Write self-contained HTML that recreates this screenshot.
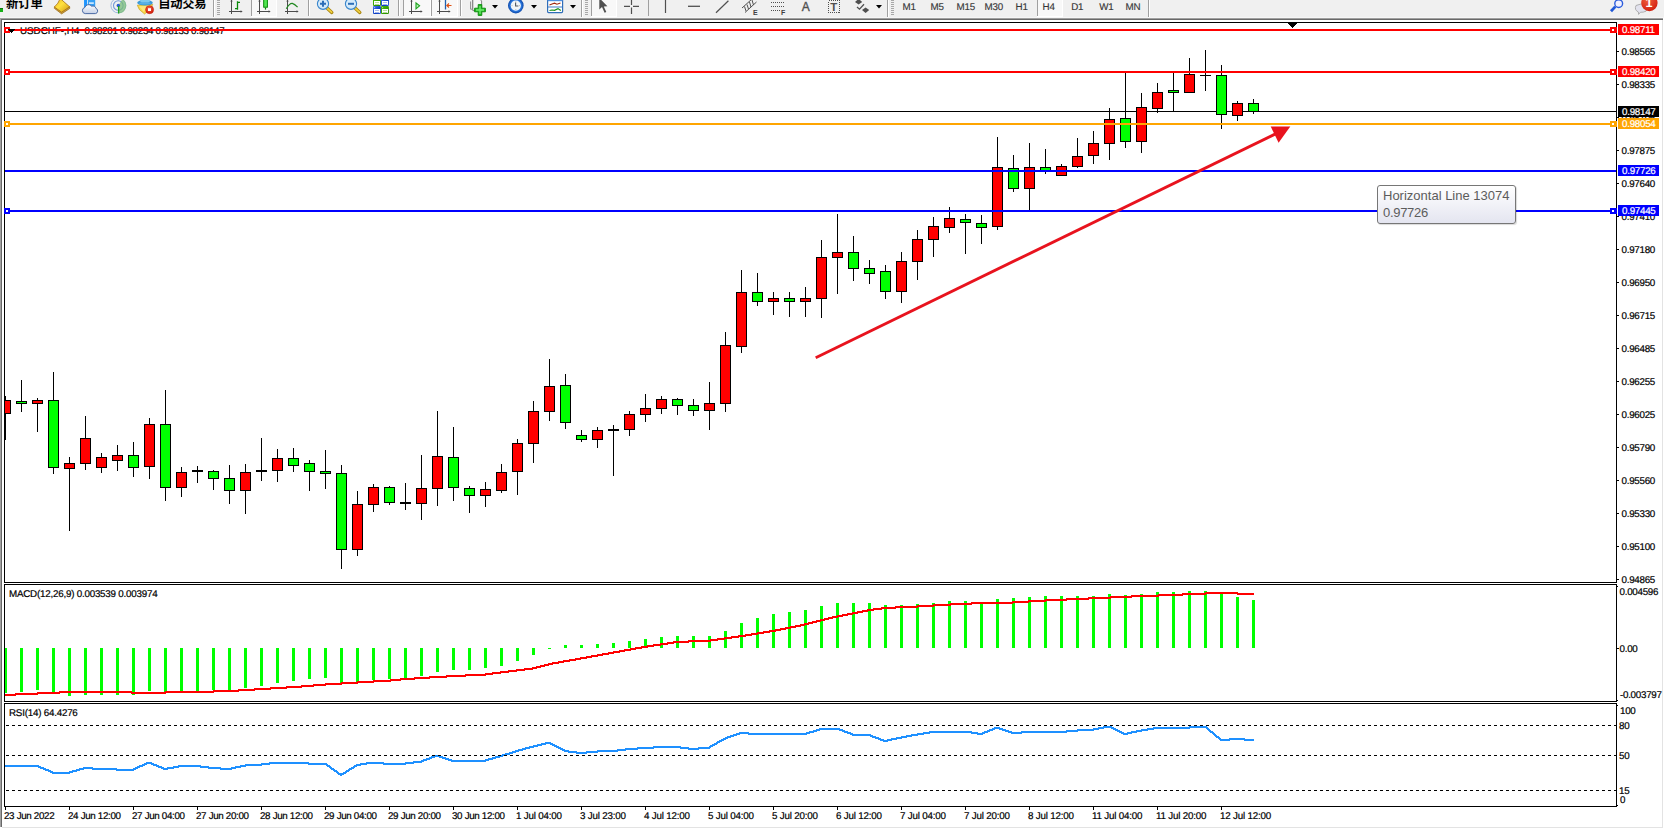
<!DOCTYPE html>
<html lang="zh"><head><meta charset="utf-8"><title>USDCHF-,H4</title>
<style>
html,body{margin:0;padding:0;background:#fff}
body{width:1664px;height:829px;position:relative;overflow:hidden;font-family:"Liberation Sans","Noto Sans CJK SC",sans-serif;color:#000}
#tb{position:absolute;left:0;top:0;width:1664px;height:17px;background:#f0f0f0;overflow:hidden}
#tb .x{position:absolute}
svg{position:absolute;left:0;top:0}
.t{position:absolute;white-space:nowrap;line-height:11px;height:11px;-webkit-text-stroke:.2px #000;text-rendering:geometricPrecision}
.ax{font-size:9.8px;letter-spacing:-0.27px}
.ti{font-size:9.8px;letter-spacing:-0.22px}
.pl{position:absolute;left:1618px;width:41px;height:11px;line-height:13px;font-size:9.8px;letter-spacing:-0.27px;text-rendering:geometricPrecision;text-indent:4px;white-space:nowrap;overflow:hidden;-webkit-text-stroke:.2px currentColor}
#tip{position:absolute;left:1377px;top:185px;width:137px;height:37px;border:1px solid #767676;border-radius:3px;
background:linear-gradient(#ffffff,#e4e5f0);color:#5c5c5c;font-size:13px;line-height:17px;white-space:nowrap;box-shadow:1px 1px 1px rgba(0,0,0,.15)}
#tip div{position:absolute;left:5px}
</style></head>
<body>
<svg width="1664" height="829" viewBox="0 0 1664 829" shape-rendering="crispEdges">
<rect x="0" y="17" width="1664" height="1" fill="#f6f6f6"/>
<rect x="0" y="18" width="1663" height="1" fill="#a0a0a0"/>
<rect x="1" y="19" width="1662" height="1" fill="#696969"/>
<rect x="0" y="19" width="1" height="808" fill="#a0a0a0"/>
<rect x="1" y="20" width="1" height="807" fill="#696969"/>
<rect x="1662" y="20" width="1" height="808" fill="#e3e3e3"/>
<rect x="2" y="827" width="1661" height="1" fill="#e3e3e3"/>
<rect x="5" y="111" width="1611" height="1" fill="#000"/>
<clipPath id="cl"><rect x="5" y="23" width="1611" height="559"/></clipPath><g clip-path="url(#cl)">
<rect x="5" y="396" width="1" height="44" fill="#000"/>
<rect x="0" y="400" width="11" height="14" fill="#000"/>
<rect x="1" y="401" width="9" height="12" fill="#ff0000"/>
<rect x="21" y="380" width="1" height="32" fill="#000"/>
<rect x="16" y="401" width="11" height="3" fill="#000"/>
<rect x="17" y="402" width="9" height="1" fill="#00ff00"/>
<rect x="37" y="398" width="1" height="34" fill="#000"/>
<rect x="32" y="400" width="11" height="4" fill="#000"/>
<rect x="33" y="401" width="9" height="2" fill="#ff0000"/>
<rect x="53" y="372" width="1" height="102" fill="#000"/>
<rect x="48" y="400" width="11" height="68" fill="#000"/>
<rect x="49" y="401" width="9" height="66" fill="#00ff00"/>
<rect x="69" y="457" width="1" height="74" fill="#000"/>
<rect x="64" y="463" width="11" height="6" fill="#000"/>
<rect x="65" y="464" width="9" height="4" fill="#ff0000"/>
<rect x="85" y="416" width="1" height="54" fill="#000"/>
<rect x="80" y="438" width="11" height="26" fill="#000"/>
<rect x="81" y="439" width="9" height="24" fill="#ff0000"/>
<rect x="101" y="453" width="1" height="20" fill="#000"/>
<rect x="96" y="457" width="11" height="11" fill="#000"/>
<rect x="97" y="458" width="9" height="9" fill="#ff0000"/>
<rect x="117" y="445" width="1" height="26" fill="#000"/>
<rect x="112" y="455" width="11" height="6" fill="#000"/>
<rect x="113" y="456" width="9" height="4" fill="#ff0000"/>
<rect x="133" y="442" width="1" height="35" fill="#000"/>
<rect x="128" y="455" width="11" height="13" fill="#000"/>
<rect x="129" y="456" width="9" height="11" fill="#00ff00"/>
<rect x="149" y="418" width="1" height="61" fill="#000"/>
<rect x="144" y="424" width="11" height="43" fill="#000"/>
<rect x="145" y="425" width="9" height="41" fill="#ff0000"/>
<rect x="165" y="390" width="1" height="111" fill="#000"/>
<rect x="160" y="424" width="11" height="64" fill="#000"/>
<rect x="161" y="425" width="9" height="62" fill="#00ff00"/>
<rect x="181" y="467" width="1" height="30" fill="#000"/>
<rect x="176" y="472" width="11" height="16" fill="#000"/>
<rect x="177" y="473" width="9" height="14" fill="#ff0000"/>
<rect x="197" y="466" width="1" height="17" fill="#000"/>
<rect x="192" y="470" width="11" height="2" fill="#000"/>
<rect x="213" y="470" width="1" height="20" fill="#000"/>
<rect x="208" y="471" width="11" height="8" fill="#000"/>
<rect x="209" y="472" width="9" height="6" fill="#00ff00"/>
<rect x="229" y="465" width="1" height="39" fill="#000"/>
<rect x="224" y="478" width="11" height="13" fill="#000"/>
<rect x="225" y="479" width="9" height="11" fill="#00ff00"/>
<rect x="245" y="464" width="1" height="50" fill="#000"/>
<rect x="240" y="472" width="11" height="19" fill="#000"/>
<rect x="241" y="473" width="9" height="17" fill="#ff0000"/>
<rect x="261" y="438" width="1" height="43" fill="#000"/>
<rect x="256" y="470" width="11" height="2" fill="#000"/>
<rect x="277" y="449" width="1" height="33" fill="#000"/>
<rect x="272" y="458" width="11" height="13" fill="#000"/>
<rect x="273" y="459" width="9" height="11" fill="#ff0000"/>
<rect x="293" y="448" width="1" height="24" fill="#000"/>
<rect x="288" y="458" width="11" height="8" fill="#000"/>
<rect x="289" y="459" width="9" height="6" fill="#00ff00"/>
<rect x="309" y="460" width="1" height="31" fill="#000"/>
<rect x="304" y="463" width="11" height="9" fill="#000"/>
<rect x="305" y="464" width="9" height="7" fill="#00ff00"/>
<rect x="325" y="450" width="1" height="39" fill="#000"/>
<rect x="320" y="471" width="11" height="3" fill="#000"/>
<rect x="321" y="472" width="9" height="1" fill="#00ff00"/>
<rect x="341" y="465" width="1" height="104" fill="#000"/>
<rect x="336" y="473" width="11" height="77" fill="#000"/>
<rect x="337" y="474" width="9" height="75" fill="#00ff00"/>
<rect x="357" y="491" width="1" height="65" fill="#000"/>
<rect x="352" y="504" width="11" height="46" fill="#000"/>
<rect x="353" y="505" width="9" height="44" fill="#ff0000"/>
<rect x="373" y="484" width="1" height="28" fill="#000"/>
<rect x="368" y="487" width="11" height="18" fill="#000"/>
<rect x="369" y="488" width="9" height="16" fill="#ff0000"/>
<rect x="389" y="486" width="1" height="19" fill="#000"/>
<rect x="384" y="487" width="11" height="16" fill="#000"/>
<rect x="385" y="488" width="9" height="14" fill="#00ff00"/>
<rect x="405" y="483" width="1" height="27" fill="#000"/>
<rect x="400" y="502" width="11" height="2" fill="#000"/>
<rect x="421" y="455" width="1" height="65" fill="#000"/>
<rect x="416" y="488" width="11" height="16" fill="#000"/>
<rect x="417" y="489" width="9" height="14" fill="#ff0000"/>
<rect x="437" y="411" width="1" height="95" fill="#000"/>
<rect x="432" y="456" width="11" height="33" fill="#000"/>
<rect x="433" y="457" width="9" height="31" fill="#ff0000"/>
<rect x="453" y="427" width="1" height="74" fill="#000"/>
<rect x="448" y="457" width="11" height="31" fill="#000"/>
<rect x="449" y="458" width="9" height="29" fill="#00ff00"/>
<rect x="469" y="486" width="1" height="27" fill="#000"/>
<rect x="464" y="488" width="11" height="8" fill="#000"/>
<rect x="465" y="489" width="9" height="6" fill="#00ff00"/>
<rect x="485" y="482" width="1" height="25" fill="#000"/>
<rect x="480" y="489" width="11" height="7" fill="#000"/>
<rect x="481" y="490" width="9" height="5" fill="#ff0000"/>
<rect x="501" y="464" width="1" height="29" fill="#000"/>
<rect x="496" y="472" width="11" height="19" fill="#000"/>
<rect x="497" y="473" width="9" height="17" fill="#ff0000"/>
<rect x="517" y="439" width="1" height="56" fill="#000"/>
<rect x="512" y="443" width="11" height="29" fill="#000"/>
<rect x="513" y="444" width="9" height="27" fill="#ff0000"/>
<rect x="533" y="401" width="1" height="62" fill="#000"/>
<rect x="528" y="411" width="11" height="33" fill="#000"/>
<rect x="529" y="412" width="9" height="31" fill="#ff0000"/>
<rect x="549" y="359" width="1" height="62" fill="#000"/>
<rect x="544" y="386" width="11" height="26" fill="#000"/>
<rect x="545" y="387" width="9" height="24" fill="#ff0000"/>
<rect x="565" y="374" width="1" height="55" fill="#000"/>
<rect x="560" y="385" width="11" height="38" fill="#000"/>
<rect x="561" y="386" width="9" height="36" fill="#00ff00"/>
<rect x="581" y="430" width="1" height="12" fill="#000"/>
<rect x="576" y="435" width="11" height="5" fill="#000"/>
<rect x="577" y="436" width="9" height="3" fill="#00ff00"/>
<rect x="597" y="427" width="1" height="21" fill="#000"/>
<rect x="592" y="430" width="11" height="10" fill="#000"/>
<rect x="593" y="431" width="9" height="8" fill="#ff0000"/>
<rect x="613" y="425" width="1" height="51" fill="#000"/>
<rect x="608" y="429" width="11" height="2" fill="#000"/>
<rect x="629" y="411" width="1" height="25" fill="#000"/>
<rect x="624" y="414" width="11" height="16" fill="#000"/>
<rect x="625" y="415" width="9" height="14" fill="#ff0000"/>
<rect x="645" y="394" width="1" height="28" fill="#000"/>
<rect x="640" y="408" width="11" height="7" fill="#000"/>
<rect x="641" y="409" width="9" height="5" fill="#ff0000"/>
<rect x="661" y="396" width="1" height="18" fill="#000"/>
<rect x="656" y="399" width="11" height="10" fill="#000"/>
<rect x="657" y="400" width="9" height="8" fill="#ff0000"/>
<rect x="677" y="398" width="1" height="17" fill="#000"/>
<rect x="672" y="399" width="11" height="7" fill="#000"/>
<rect x="673" y="400" width="9" height="5" fill="#00ff00"/>
<rect x="693" y="399" width="1" height="17" fill="#000"/>
<rect x="688" y="405" width="11" height="6" fill="#000"/>
<rect x="689" y="406" width="9" height="4" fill="#00ff00"/>
<rect x="709" y="382" width="1" height="48" fill="#000"/>
<rect x="704" y="403" width="11" height="8" fill="#000"/>
<rect x="705" y="404" width="9" height="6" fill="#ff0000"/>
<rect x="725" y="332" width="1" height="80" fill="#000"/>
<rect x="720" y="345" width="11" height="59" fill="#000"/>
<rect x="721" y="346" width="9" height="57" fill="#ff0000"/>
<rect x="741" y="270" width="1" height="83" fill="#000"/>
<rect x="736" y="292" width="11" height="55" fill="#000"/>
<rect x="737" y="293" width="9" height="53" fill="#ff0000"/>
<rect x="757" y="273" width="1" height="33" fill="#000"/>
<rect x="752" y="292" width="11" height="10" fill="#000"/>
<rect x="753" y="293" width="9" height="8" fill="#00ff00"/>
<rect x="773" y="292" width="1" height="23" fill="#000"/>
<rect x="768" y="298" width="11" height="4" fill="#000"/>
<rect x="769" y="299" width="9" height="2" fill="#ff0000"/>
<rect x="789" y="292" width="1" height="25" fill="#000"/>
<rect x="784" y="298" width="11" height="4" fill="#000"/>
<rect x="785" y="299" width="9" height="2" fill="#00ff00"/>
<rect x="805" y="287" width="1" height="30" fill="#000"/>
<rect x="800" y="298" width="11" height="4" fill="#000"/>
<rect x="801" y="299" width="9" height="2" fill="#ff0000"/>
<rect x="821" y="240" width="1" height="78" fill="#000"/>
<rect x="816" y="257" width="11" height="42" fill="#000"/>
<rect x="817" y="258" width="9" height="40" fill="#ff0000"/>
<rect x="837" y="214" width="1" height="80" fill="#000"/>
<rect x="832" y="252" width="11" height="6" fill="#000"/>
<rect x="833" y="253" width="9" height="4" fill="#ff0000"/>
<rect x="853" y="236" width="1" height="45" fill="#000"/>
<rect x="848" y="252" width="11" height="17" fill="#000"/>
<rect x="849" y="253" width="9" height="15" fill="#00ff00"/>
<rect x="869" y="260" width="1" height="24" fill="#000"/>
<rect x="864" y="268" width="11" height="6" fill="#000"/>
<rect x="865" y="269" width="9" height="4" fill="#00ff00"/>
<rect x="885" y="265" width="1" height="34" fill="#000"/>
<rect x="880" y="271" width="11" height="21" fill="#000"/>
<rect x="881" y="272" width="9" height="19" fill="#00ff00"/>
<rect x="901" y="252" width="1" height="51" fill="#000"/>
<rect x="896" y="261" width="11" height="31" fill="#000"/>
<rect x="897" y="262" width="9" height="29" fill="#ff0000"/>
<rect x="917" y="230" width="1" height="50" fill="#000"/>
<rect x="912" y="239" width="11" height="23" fill="#000"/>
<rect x="913" y="240" width="9" height="21" fill="#ff0000"/>
<rect x="933" y="217" width="1" height="40" fill="#000"/>
<rect x="928" y="226" width="11" height="14" fill="#000"/>
<rect x="929" y="227" width="9" height="12" fill="#ff0000"/>
<rect x="949" y="207" width="1" height="26" fill="#000"/>
<rect x="944" y="218" width="11" height="10" fill="#000"/>
<rect x="945" y="219" width="9" height="8" fill="#ff0000"/>
<rect x="965" y="214" width="1" height="40" fill="#000"/>
<rect x="960" y="219" width="11" height="4" fill="#000"/>
<rect x="961" y="220" width="9" height="2" fill="#00ff00"/>
<rect x="981" y="215" width="1" height="29" fill="#000"/>
<rect x="976" y="223" width="11" height="5" fill="#000"/>
<rect x="977" y="224" width="9" height="3" fill="#00ff00"/>
<rect x="997" y="137" width="1" height="93" fill="#000"/>
<rect x="992" y="167" width="11" height="60" fill="#000"/>
<rect x="993" y="168" width="9" height="58" fill="#ff0000"/>
<rect x="1013" y="155" width="1" height="37" fill="#000"/>
<rect x="1008" y="168" width="11" height="21" fill="#000"/>
<rect x="1009" y="169" width="9" height="19" fill="#00ff00"/>
<rect x="1029" y="143" width="1" height="68" fill="#000"/>
<rect x="1024" y="167" width="11" height="22" fill="#000"/>
<rect x="1025" y="168" width="9" height="20" fill="#ff0000"/>
<rect x="1045" y="149" width="1" height="25" fill="#000"/>
<rect x="1040" y="167" width="11" height="4" fill="#000"/>
<rect x="1041" y="168" width="9" height="2" fill="#00ff00"/>
<rect x="1061" y="164" width="1" height="12" fill="#000"/>
<rect x="1056" y="166" width="11" height="10" fill="#000"/>
<rect x="1057" y="167" width="9" height="8" fill="#ff0000"/>
<rect x="1077" y="138" width="1" height="30" fill="#000"/>
<rect x="1072" y="156" width="11" height="11" fill="#000"/>
<rect x="1073" y="157" width="9" height="9" fill="#ff0000"/>
<rect x="1093" y="131" width="1" height="33" fill="#000"/>
<rect x="1088" y="143" width="11" height="13" fill="#000"/>
<rect x="1089" y="144" width="9" height="11" fill="#ff0000"/>
<rect x="1109" y="108" width="1" height="52" fill="#000"/>
<rect x="1104" y="119" width="11" height="25" fill="#000"/>
<rect x="1105" y="120" width="9" height="23" fill="#ff0000"/>
<rect x="1125" y="73" width="1" height="75" fill="#000"/>
<rect x="1120" y="118" width="11" height="24" fill="#000"/>
<rect x="1121" y="119" width="9" height="22" fill="#00ff00"/>
<rect x="1141" y="93" width="1" height="60" fill="#000"/>
<rect x="1136" y="107" width="11" height="35" fill="#000"/>
<rect x="1137" y="108" width="9" height="33" fill="#ff0000"/>
<rect x="1157" y="83" width="1" height="30" fill="#000"/>
<rect x="1152" y="92" width="11" height="17" fill="#000"/>
<rect x="1153" y="93" width="9" height="15" fill="#ff0000"/>
<rect x="1173" y="73" width="1" height="39" fill="#000"/>
<rect x="1168" y="90" width="11" height="3" fill="#000"/>
<rect x="1169" y="91" width="9" height="1" fill="#00ff00"/>
<rect x="1189" y="58" width="1" height="35" fill="#000"/>
<rect x="1184" y="74" width="11" height="19" fill="#000"/>
<rect x="1185" y="75" width="9" height="17" fill="#ff0000"/>
<rect x="1205" y="50" width="1" height="41" fill="#000"/>
<rect x="1200" y="75" width="11" height="1" fill="#000"/>
<rect x="1221" y="65" width="1" height="64" fill="#000"/>
<rect x="1216" y="75" width="11" height="40" fill="#000"/>
<rect x="1217" y="76" width="9" height="38" fill="#00ff00"/>
<rect x="1237" y="101" width="1" height="20" fill="#000"/>
<rect x="1232" y="103" width="11" height="13" fill="#000"/>
<rect x="1233" y="104" width="9" height="11" fill="#ff0000"/>
<rect x="1253" y="99" width="1" height="15" fill="#000"/>
<rect x="1248" y="103" width="11" height="9" fill="#000"/>
<rect x="1249" y="104" width="9" height="7" fill="#00ff00"/>
</g>
<rect x="4" y="648" width="3" height="45" fill="#00ff00"/>
<rect x="20" y="648" width="3" height="44" fill="#00ff00"/>
<rect x="36" y="648" width="3" height="42" fill="#00ff00"/>
<rect x="52" y="648" width="3" height="45" fill="#00ff00"/>
<rect x="68" y="648" width="3" height="48" fill="#00ff00"/>
<rect x="84" y="648" width="3" height="47" fill="#00ff00"/>
<rect x="100" y="648" width="3" height="47" fill="#00ff00"/>
<rect x="116" y="648" width="3" height="47" fill="#00ff00"/>
<rect x="132" y="648" width="3" height="47" fill="#00ff00"/>
<rect x="148" y="648" width="3" height="43" fill="#00ff00"/>
<rect x="164" y="648" width="3" height="45" fill="#00ff00"/>
<rect x="180" y="648" width="3" height="45" fill="#00ff00"/>
<rect x="196" y="648" width="3" height="44" fill="#00ff00"/>
<rect x="212" y="648" width="3" height="42" fill="#00ff00"/>
<rect x="228" y="648" width="3" height="43" fill="#00ff00"/>
<rect x="244" y="648" width="3" height="40" fill="#00ff00"/>
<rect x="260" y="648" width="3" height="38" fill="#00ff00"/>
<rect x="276" y="648" width="3" height="35" fill="#00ff00"/>
<rect x="292" y="648" width="3" height="33" fill="#00ff00"/>
<rect x="308" y="648" width="3" height="31" fill="#00ff00"/>
<rect x="324" y="648" width="3" height="30" fill="#00ff00"/>
<rect x="340" y="648" width="3" height="35" fill="#00ff00"/>
<rect x="356" y="648" width="3" height="34" fill="#00ff00"/>
<rect x="372" y="648" width="3" height="32" fill="#00ff00"/>
<rect x="388" y="648" width="3" height="31" fill="#00ff00"/>
<rect x="404" y="648" width="3" height="30" fill="#00ff00"/>
<rect x="420" y="648" width="3" height="28" fill="#00ff00"/>
<rect x="436" y="648" width="3" height="24" fill="#00ff00"/>
<rect x="452" y="648" width="3" height="22" fill="#00ff00"/>
<rect x="468" y="648" width="3" height="22" fill="#00ff00"/>
<rect x="484" y="648" width="3" height="20" fill="#00ff00"/>
<rect x="500" y="648" width="3" height="18" fill="#00ff00"/>
<rect x="516" y="648" width="3" height="13" fill="#00ff00"/>
<rect x="532" y="648" width="3" height="7" fill="#00ff00"/>
<rect x="548" y="648" width="3" height="1" fill="#00ff00"/>
<rect x="564" y="645" width="3" height="3" fill="#00ff00"/>
<rect x="580" y="645" width="3" height="3" fill="#00ff00"/>
<rect x="596" y="644" width="3" height="4" fill="#00ff00"/>
<rect x="612" y="643" width="3" height="5" fill="#00ff00"/>
<rect x="628" y="641" width="3" height="7" fill="#00ff00"/>
<rect x="644" y="639" width="3" height="9" fill="#00ff00"/>
<rect x="660" y="637" width="3" height="11" fill="#00ff00"/>
<rect x="676" y="636" width="3" height="12" fill="#00ff00"/>
<rect x="692" y="636" width="3" height="12" fill="#00ff00"/>
<rect x="708" y="636" width="3" height="12" fill="#00ff00"/>
<rect x="724" y="631" width="3" height="17" fill="#00ff00"/>
<rect x="740" y="623" width="3" height="25" fill="#00ff00"/>
<rect x="756" y="618" width="3" height="30" fill="#00ff00"/>
<rect x="772" y="614" width="3" height="34" fill="#00ff00"/>
<rect x="788" y="612" width="3" height="36" fill="#00ff00"/>
<rect x="804" y="610" width="3" height="38" fill="#00ff00"/>
<rect x="820" y="606" width="3" height="42" fill="#00ff00"/>
<rect x="836" y="603" width="3" height="45" fill="#00ff00"/>
<rect x="852" y="603" width="3" height="45" fill="#00ff00"/>
<rect x="868" y="603" width="3" height="45" fill="#00ff00"/>
<rect x="884" y="605" width="3" height="43" fill="#00ff00"/>
<rect x="900" y="605" width="3" height="43" fill="#00ff00"/>
<rect x="916" y="604" width="3" height="44" fill="#00ff00"/>
<rect x="932" y="603" width="3" height="45" fill="#00ff00"/>
<rect x="948" y="601" width="3" height="47" fill="#00ff00"/>
<rect x="964" y="601" width="3" height="47" fill="#00ff00"/>
<rect x="980" y="604" width="3" height="44" fill="#00ff00"/>
<rect x="996" y="599" width="3" height="49" fill="#00ff00"/>
<rect x="1012" y="598" width="3" height="50" fill="#00ff00"/>
<rect x="1028" y="597" width="3" height="51" fill="#00ff00"/>
<rect x="1044" y="596" width="3" height="52" fill="#00ff00"/>
<rect x="1060" y="596" width="3" height="52" fill="#00ff00"/>
<rect x="1076" y="596" width="3" height="52" fill="#00ff00"/>
<rect x="1092" y="596" width="3" height="52" fill="#00ff00"/>
<rect x="1108" y="594" width="3" height="54" fill="#00ff00"/>
<rect x="1124" y="595" width="3" height="53" fill="#00ff00"/>
<rect x="1140" y="594" width="3" height="54" fill="#00ff00"/>
<rect x="1156" y="592" width="3" height="56" fill="#00ff00"/>
<rect x="1172" y="592" width="3" height="56" fill="#00ff00"/>
<rect x="1188" y="591" width="3" height="57" fill="#00ff00"/>
<rect x="1204" y="591" width="3" height="57" fill="#00ff00"/>
<rect x="1220" y="593" width="3" height="55" fill="#00ff00"/>
<rect x="1236" y="597" width="3" height="51" fill="#00ff00"/>
<rect x="1252" y="600" width="3" height="48" fill="#00ff00"/>
<rect x="5" y="694" width="11" height="2" fill="#ff0000"/>
<rect x="15" y="693" width="23" height="2" fill="#ff0000"/>
<rect x="37" y="692" width="23" height="2" fill="#ff0000"/>
<rect x="59" y="691" width="73" height="2" fill="#ff0000"/>
<rect x="131" y="692" width="35" height="2" fill="#ff0000"/>
<rect x="165" y="691" width="49" height="2" fill="#ff0000"/>
<rect x="213" y="690" width="26" height="2" fill="#ff0000"/>
<rect x="238" y="689" width="17" height="2" fill="#ff0000"/>
<rect x="254" y="688" width="17" height="2" fill="#ff0000"/>
<rect x="270" y="687" width="17" height="2" fill="#ff0000"/>
<rect x="286" y="686" width="16" height="2" fill="#ff0000"/>
<rect x="301" y="685" width="13" height="2" fill="#ff0000"/>
<rect x="313" y="684" width="13" height="2" fill="#ff0000"/>
<rect x="325" y="683" width="17" height="2" fill="#ff0000"/>
<rect x="341" y="682" width="17" height="2" fill="#ff0000"/>
<rect x="357" y="681" width="17" height="2" fill="#ff0000"/>
<rect x="373" y="680" width="18" height="2" fill="#ff0000"/>
<rect x="390" y="679" width="11" height="2" fill="#ff0000"/>
<rect x="400" y="678" width="15" height="2" fill="#ff0000"/>
<rect x="414" y="677" width="16" height="2" fill="#ff0000"/>
<rect x="429" y="676" width="18" height="2" fill="#ff0000"/>
<rect x="446" y="675" width="20" height="2" fill="#ff0000"/>
<rect x="465" y="674" width="21" height="2" fill="#ff0000"/>
<rect x="485" y="673" width="8" height="2" fill="#ff0000"/>
<rect x="492" y="672" width="9" height="2" fill="#ff0000"/>
<rect x="500" y="671" width="9" height="2" fill="#ff0000"/>
<rect x="508" y="670" width="9" height="2" fill="#ff0000"/>
<rect x="516" y="669" width="9" height="2" fill="#ff0000"/>
<rect x="524" y="668" width="9" height="2" fill="#ff0000"/>
<rect x="532" y="667" width="5" height="2" fill="#ff0000"/>
<rect x="536" y="666" width="5" height="2" fill="#ff0000"/>
<rect x="540" y="665" width="5" height="2" fill="#ff0000"/>
<rect x="544" y="664" width="5" height="2" fill="#ff0000"/>
<rect x="548" y="663" width="5" height="2" fill="#ff0000"/>
<rect x="552" y="662" width="7" height="2" fill="#ff0000"/>
<rect x="558" y="661" width="6" height="2" fill="#ff0000"/>
<rect x="563" y="660" width="7" height="2" fill="#ff0000"/>
<rect x="569" y="659" width="7" height="2" fill="#ff0000"/>
<rect x="575" y="658" width="6" height="2" fill="#ff0000"/>
<rect x="580" y="657" width="7" height="2" fill="#ff0000"/>
<rect x="586" y="656" width="6" height="2" fill="#ff0000"/>
<rect x="591" y="655" width="7" height="2" fill="#ff0000"/>
<rect x="597" y="654" width="6" height="2" fill="#ff0000"/>
<rect x="602" y="653" width="7" height="2" fill="#ff0000"/>
<rect x="608" y="652" width="6" height="2" fill="#ff0000"/>
<rect x="613" y="651" width="7" height="2" fill="#ff0000"/>
<rect x="619" y="650" width="6" height="2" fill="#ff0000"/>
<rect x="624" y="649" width="7" height="2" fill="#ff0000"/>
<rect x="630" y="648" width="6" height="2" fill="#ff0000"/>
<rect x="635" y="647" width="7" height="2" fill="#ff0000"/>
<rect x="641" y="646" width="7" height="2" fill="#ff0000"/>
<rect x="647" y="645" width="7" height="2" fill="#ff0000"/>
<rect x="653" y="644" width="8" height="2" fill="#ff0000"/>
<rect x="660" y="643" width="8" height="2" fill="#ff0000"/>
<rect x="667" y="642" width="7" height="2" fill="#ff0000"/>
<rect x="673" y="641" width="16" height="2" fill="#ff0000"/>
<rect x="688" y="640" width="23" height="2" fill="#ff0000"/>
<rect x="710" y="639" width="8" height="2" fill="#ff0000"/>
<rect x="717" y="638" width="8" height="2" fill="#ff0000"/>
<rect x="724" y="637" width="8" height="2" fill="#ff0000"/>
<rect x="731" y="636" width="8" height="2" fill="#ff0000"/>
<rect x="738" y="635" width="8" height="2" fill="#ff0000"/>
<rect x="745" y="634" width="7" height="2" fill="#ff0000"/>
<rect x="751" y="633" width="7" height="2" fill="#ff0000"/>
<rect x="757" y="632" width="7" height="2" fill="#ff0000"/>
<rect x="763" y="631" width="7" height="2" fill="#ff0000"/>
<rect x="769" y="630" width="7" height="2" fill="#ff0000"/>
<rect x="775" y="629" width="6" height="2" fill="#ff0000"/>
<rect x="780" y="628" width="6" height="2" fill="#ff0000"/>
<rect x="785" y="627" width="6" height="2" fill="#ff0000"/>
<rect x="790" y="626" width="6" height="2" fill="#ff0000"/>
<rect x="795" y="625" width="6" height="2" fill="#ff0000"/>
<rect x="800" y="624" width="5" height="2" fill="#ff0000"/>
<rect x="804" y="623" width="5" height="2" fill="#ff0000"/>
<rect x="808" y="622" width="5" height="2" fill="#ff0000"/>
<rect x="812" y="621" width="5" height="2" fill="#ff0000"/>
<rect x="816" y="620" width="5" height="2" fill="#ff0000"/>
<rect x="820" y="619" width="5" height="2" fill="#ff0000"/>
<rect x="824" y="618" width="5" height="2" fill="#ff0000"/>
<rect x="828" y="617" width="5" height="2" fill="#ff0000"/>
<rect x="832" y="616" width="6" height="2" fill="#ff0000"/>
<rect x="837" y="615" width="6" height="2" fill="#ff0000"/>
<rect x="842" y="614" width="6" height="2" fill="#ff0000"/>
<rect x="847" y="613" width="6" height="2" fill="#ff0000"/>
<rect x="852" y="612" width="6" height="2" fill="#ff0000"/>
<rect x="857" y="611" width="6" height="2" fill="#ff0000"/>
<rect x="862" y="610" width="6" height="2" fill="#ff0000"/>
<rect x="867" y="609" width="7" height="2" fill="#ff0000"/>
<rect x="873" y="608" width="9" height="2" fill="#ff0000"/>
<rect x="881" y="607" width="15" height="2" fill="#ff0000"/>
<rect x="895" y="606" width="23" height="2" fill="#ff0000"/>
<rect x="917" y="605" width="17" height="2" fill="#ff0000"/>
<rect x="933" y="604" width="18" height="2" fill="#ff0000"/>
<rect x="950" y="603" width="22" height="2" fill="#ff0000"/>
<rect x="971" y="602" width="42" height="2" fill="#ff0000"/>
<rect x="1012" y="601" width="17" height="2" fill="#ff0000"/>
<rect x="1028" y="600" width="18" height="2" fill="#ff0000"/>
<rect x="1045" y="599" width="22" height="2" fill="#ff0000"/>
<rect x="1066" y="598" width="23" height="2" fill="#ff0000"/>
<rect x="1088" y="597" width="23" height="2" fill="#ff0000"/>
<rect x="1110" y="596" width="22" height="2" fill="#ff0000"/>
<rect x="1131" y="595" width="28" height="2" fill="#ff0000"/>
<rect x="1158" y="594" width="25" height="2" fill="#ff0000"/>
<rect x="1182" y="593" width="24" height="2" fill="#ff0000"/>
<rect x="1205" y="592" width="33" height="2" fill="#ff0000"/>
<rect x="1237" y="593" width="17" height="2" fill="#ff0000"/>
<rect x="5" y="765" width="34" height="2" fill="#1e90ff"/>
<rect x="38" y="766" width="3" height="2" fill="#1e90ff"/>
<rect x="40" y="767" width="4" height="2" fill="#1e90ff"/>
<rect x="43" y="768" width="3" height="2" fill="#1e90ff"/>
<rect x="45" y="769" width="4" height="2" fill="#1e90ff"/>
<rect x="48" y="770" width="3" height="2" fill="#1e90ff"/>
<rect x="50" y="771" width="3" height="2" fill="#1e90ff"/>
<rect x="52" y="772" width="18" height="2" fill="#1e90ff"/>
<rect x="69" y="771" width="4" height="2" fill="#1e90ff"/>
<rect x="72" y="770" width="5" height="2" fill="#1e90ff"/>
<rect x="76" y="769" width="4" height="2" fill="#1e90ff"/>
<rect x="79" y="768" width="5" height="2" fill="#1e90ff"/>
<rect x="83" y="767" width="10" height="2" fill="#1e90ff"/>
<rect x="92" y="768" width="25" height="2" fill="#1e90ff"/>
<rect x="116" y="769" width="18" height="2" fill="#1e90ff"/>
<rect x="133" y="768" width="3" height="2" fill="#1e90ff"/>
<rect x="135" y="767" width="3" height="2" fill="#1e90ff"/>
<rect x="137" y="766" width="3" height="2" fill="#1e90ff"/>
<rect x="139" y="765" width="4" height="2" fill="#1e90ff"/>
<rect x="142" y="764" width="3" height="2" fill="#1e90ff"/>
<rect x="144" y="763" width="3" height="2" fill="#1e90ff"/>
<rect x="146" y="762" width="6" height="2" fill="#1e90ff"/>
<rect x="151" y="763" width="3" height="2" fill="#1e90ff"/>
<rect x="153" y="764" width="4" height="2" fill="#1e90ff"/>
<rect x="156" y="765" width="3" height="2" fill="#1e90ff"/>
<rect x="158" y="766" width="4" height="2" fill="#1e90ff"/>
<rect x="161" y="767" width="3" height="2" fill="#1e90ff"/>
<rect x="163" y="768" width="5" height="2" fill="#1e90ff"/>
<rect x="167" y="767" width="7" height="2" fill="#1e90ff"/>
<rect x="173" y="766" width="6" height="2" fill="#1e90ff"/>
<rect x="178" y="765" width="23" height="2" fill="#1e90ff"/>
<rect x="200" y="766" width="9" height="2" fill="#1e90ff"/>
<rect x="208" y="767" width="13" height="2" fill="#1e90ff"/>
<rect x="220" y="768" width="12" height="2" fill="#1e90ff"/>
<rect x="231" y="767" width="5" height="2" fill="#1e90ff"/>
<rect x="235" y="766" width="6" height="2" fill="#1e90ff"/>
<rect x="240" y="765" width="6" height="2" fill="#1e90ff"/>
<rect x="245" y="764" width="17" height="2" fill="#1e90ff"/>
<rect x="261" y="763" width="9" height="2" fill="#1e90ff"/>
<rect x="269" y="762" width="40" height="2" fill="#1e90ff"/>
<rect x="308" y="763" width="19" height="2" fill="#1e90ff"/>
<rect x="326" y="764" width="2" height="2" fill="#1e90ff"/>
<rect x="327" y="765" width="3" height="2" fill="#1e90ff"/>
<rect x="329" y="766" width="2" height="2" fill="#1e90ff"/>
<rect x="330" y="767" width="2" height="2" fill="#1e90ff"/>
<rect x="331" y="768" width="3" height="2" fill="#1e90ff"/>
<rect x="333" y="769" width="2" height="2" fill="#1e90ff"/>
<rect x="334" y="770" width="3" height="2" fill="#1e90ff"/>
<rect x="336" y="771" width="2" height="2" fill="#1e90ff"/>
<rect x="337" y="772" width="2" height="2" fill="#1e90ff"/>
<rect x="338" y="773" width="3" height="2" fill="#1e90ff"/>
<rect x="340" y="774" width="2" height="2" fill="#1e90ff"/>
<rect x="341" y="773" width="3" height="2" fill="#1e90ff"/>
<rect x="343" y="772" width="3" height="2" fill="#1e90ff"/>
<rect x="345" y="771" width="2" height="2" fill="#1e90ff"/>
<rect x="346" y="770" width="3" height="2" fill="#1e90ff"/>
<rect x="348" y="769" width="2" height="2" fill="#1e90ff"/>
<rect x="349" y="768" width="3" height="2" fill="#1e90ff"/>
<rect x="351" y="767" width="3" height="2" fill="#1e90ff"/>
<rect x="353" y="766" width="2" height="2" fill="#1e90ff"/>
<rect x="354" y="765" width="3" height="2" fill="#1e90ff"/>
<rect x="356" y="764" width="5" height="2" fill="#1e90ff"/>
<rect x="360" y="763" width="7" height="2" fill="#1e90ff"/>
<rect x="366" y="762" width="18" height="2" fill="#1e90ff"/>
<rect x="383" y="763" width="23" height="2" fill="#1e90ff"/>
<rect x="405" y="762" width="9" height="2" fill="#1e90ff"/>
<rect x="413" y="761" width="9" height="2" fill="#1e90ff"/>
<rect x="421" y="760" width="3" height="2" fill="#1e90ff"/>
<rect x="423" y="759" width="4" height="2" fill="#1e90ff"/>
<rect x="426" y="758" width="4" height="2" fill="#1e90ff"/>
<rect x="429" y="757" width="3" height="2" fill="#1e90ff"/>
<rect x="431" y="756" width="4" height="2" fill="#1e90ff"/>
<rect x="434" y="755" width="6" height="2" fill="#1e90ff"/>
<rect x="439" y="756" width="4" height="2" fill="#1e90ff"/>
<rect x="442" y="757" width="4" height="2" fill="#1e90ff"/>
<rect x="445" y="758" width="4" height="2" fill="#1e90ff"/>
<rect x="448" y="759" width="4" height="2" fill="#1e90ff"/>
<rect x="451" y="760" width="35" height="2" fill="#1e90ff"/>
<rect x="485" y="759" width="4" height="2" fill="#1e90ff"/>
<rect x="488" y="758" width="5" height="2" fill="#1e90ff"/>
<rect x="492" y="757" width="4" height="2" fill="#1e90ff"/>
<rect x="495" y="756" width="5" height="2" fill="#1e90ff"/>
<rect x="499" y="755" width="4" height="2" fill="#1e90ff"/>
<rect x="502" y="754" width="4" height="2" fill="#1e90ff"/>
<rect x="505" y="753" width="5" height="2" fill="#1e90ff"/>
<rect x="509" y="752" width="4" height="2" fill="#1e90ff"/>
<rect x="512" y="751" width="4" height="2" fill="#1e90ff"/>
<rect x="515" y="750" width="4" height="2" fill="#1e90ff"/>
<rect x="518" y="749" width="5" height="2" fill="#1e90ff"/>
<rect x="522" y="748" width="4" height="2" fill="#1e90ff"/>
<rect x="525" y="747" width="5" height="2" fill="#1e90ff"/>
<rect x="529" y="746" width="5" height="2" fill="#1e90ff"/>
<rect x="533" y="745" width="5" height="2" fill="#1e90ff"/>
<rect x="537" y="744" width="5" height="2" fill="#1e90ff"/>
<rect x="541" y="743" width="5" height="2" fill="#1e90ff"/>
<rect x="545" y="742" width="6" height="2" fill="#1e90ff"/>
<rect x="550" y="743" width="3" height="2" fill="#1e90ff"/>
<rect x="552" y="744" width="3" height="2" fill="#1e90ff"/>
<rect x="554" y="745" width="3" height="2" fill="#1e90ff"/>
<rect x="556" y="746" width="3" height="2" fill="#1e90ff"/>
<rect x="558" y="747" width="3" height="2" fill="#1e90ff"/>
<rect x="560" y="748" width="3" height="2" fill="#1e90ff"/>
<rect x="562" y="749" width="3" height="2" fill="#1e90ff"/>
<rect x="564" y="750" width="5" height="2" fill="#1e90ff"/>
<rect x="568" y="751" width="9" height="2" fill="#1e90ff"/>
<rect x="576" y="752" width="11" height="2" fill="#1e90ff"/>
<rect x="586" y="751" width="12" height="2" fill="#1e90ff"/>
<rect x="597" y="750" width="21" height="2" fill="#1e90ff"/>
<rect x="617" y="749" width="9" height="2" fill="#1e90ff"/>
<rect x="625" y="748" width="13" height="2" fill="#1e90ff"/>
<rect x="637" y="747" width="17" height="2" fill="#1e90ff"/>
<rect x="653" y="746" width="28" height="2" fill="#1e90ff"/>
<rect x="680" y="747" width="9" height="2" fill="#1e90ff"/>
<rect x="688" y="748" width="11" height="2" fill="#1e90ff"/>
<rect x="698" y="747" width="12" height="2" fill="#1e90ff"/>
<rect x="709" y="746" width="2" height="2" fill="#1e90ff"/>
<rect x="710" y="745" width="3" height="2" fill="#1e90ff"/>
<rect x="712" y="744" width="3" height="2" fill="#1e90ff"/>
<rect x="714" y="743" width="3" height="2" fill="#1e90ff"/>
<rect x="716" y="742" width="2" height="2" fill="#1e90ff"/>
<rect x="717" y="741" width="3" height="2" fill="#1e90ff"/>
<rect x="719" y="740" width="3" height="2" fill="#1e90ff"/>
<rect x="721" y="739" width="3" height="2" fill="#1e90ff"/>
<rect x="723" y="738" width="3" height="2" fill="#1e90ff"/>
<rect x="725" y="737" width="3" height="2" fill="#1e90ff"/>
<rect x="727" y="736" width="4" height="2" fill="#1e90ff"/>
<rect x="730" y="735" width="4" height="2" fill="#1e90ff"/>
<rect x="733" y="734" width="4" height="2" fill="#1e90ff"/>
<rect x="736" y="733" width="4" height="2" fill="#1e90ff"/>
<rect x="739" y="732" width="10" height="2" fill="#1e90ff"/>
<rect x="748" y="733" width="59" height="2" fill="#1e90ff"/>
<rect x="806" y="732" width="4" height="2" fill="#1e90ff"/>
<rect x="809" y="731" width="5" height="2" fill="#1e90ff"/>
<rect x="813" y="730" width="4" height="2" fill="#1e90ff"/>
<rect x="816" y="729" width="4" height="2" fill="#1e90ff"/>
<rect x="819" y="728" width="21" height="2" fill="#1e90ff"/>
<rect x="839" y="729" width="4" height="2" fill="#1e90ff"/>
<rect x="842" y="730" width="3" height="2" fill="#1e90ff"/>
<rect x="844" y="731" width="4" height="2" fill="#1e90ff"/>
<rect x="847" y="732" width="4" height="2" fill="#1e90ff"/>
<rect x="850" y="733" width="3" height="2" fill="#1e90ff"/>
<rect x="852" y="734" width="19" height="2" fill="#1e90ff"/>
<rect x="870" y="735" width="3" height="2" fill="#1e90ff"/>
<rect x="872" y="736" width="4" height="2" fill="#1e90ff"/>
<rect x="875" y="737" width="4" height="2" fill="#1e90ff"/>
<rect x="878" y="738" width="3" height="2" fill="#1e90ff"/>
<rect x="880" y="739" width="4" height="2" fill="#1e90ff"/>
<rect x="883" y="740" width="5" height="2" fill="#1e90ff"/>
<rect x="887" y="739" width="5" height="2" fill="#1e90ff"/>
<rect x="891" y="738" width="6" height="2" fill="#1e90ff"/>
<rect x="896" y="737" width="6" height="2" fill="#1e90ff"/>
<rect x="901" y="736" width="6" height="2" fill="#1e90ff"/>
<rect x="906" y="735" width="6" height="2" fill="#1e90ff"/>
<rect x="911" y="734" width="7" height="2" fill="#1e90ff"/>
<rect x="917" y="733" width="7" height="2" fill="#1e90ff"/>
<rect x="923" y="732" width="7" height="2" fill="#1e90ff"/>
<rect x="929" y="731" width="43" height="2" fill="#1e90ff"/>
<rect x="971" y="732" width="7" height="2" fill="#1e90ff"/>
<rect x="977" y="733" width="6" height="2" fill="#1e90ff"/>
<rect x="982" y="732" width="3" height="2" fill="#1e90ff"/>
<rect x="984" y="731" width="4" height="2" fill="#1e90ff"/>
<rect x="987" y="730" width="3" height="2" fill="#1e90ff"/>
<rect x="989" y="729" width="4" height="2" fill="#1e90ff"/>
<rect x="992" y="728" width="3" height="2" fill="#1e90ff"/>
<rect x="994" y="727" width="6" height="2" fill="#1e90ff"/>
<rect x="999" y="728" width="4" height="2" fill="#1e90ff"/>
<rect x="1002" y="729" width="4" height="2" fill="#1e90ff"/>
<rect x="1005" y="730" width="4" height="2" fill="#1e90ff"/>
<rect x="1008" y="731" width="4" height="2" fill="#1e90ff"/>
<rect x="1011" y="732" width="11" height="2" fill="#1e90ff"/>
<rect x="1021" y="731" width="46" height="2" fill="#1e90ff"/>
<rect x="1066" y="730" width="12" height="2" fill="#1e90ff"/>
<rect x="1077" y="729" width="17" height="2" fill="#1e90ff"/>
<rect x="1093" y="728" width="6" height="2" fill="#1e90ff"/>
<rect x="1098" y="727" width="6" height="2" fill="#1e90ff"/>
<rect x="1103" y="726" width="9" height="2" fill="#1e90ff"/>
<rect x="1111" y="727" width="3" height="2" fill="#1e90ff"/>
<rect x="1113" y="728" width="3" height="2" fill="#1e90ff"/>
<rect x="1115" y="729" width="3" height="2" fill="#1e90ff"/>
<rect x="1117" y="730" width="3" height="2" fill="#1e90ff"/>
<rect x="1119" y="731" width="3" height="2" fill="#1e90ff"/>
<rect x="1121" y="732" width="3" height="2" fill="#1e90ff"/>
<rect x="1123" y="733" width="5" height="2" fill="#1e90ff"/>
<rect x="1127" y="732" width="5" height="2" fill="#1e90ff"/>
<rect x="1131" y="731" width="6" height="2" fill="#1e90ff"/>
<rect x="1136" y="730" width="6" height="2" fill="#1e90ff"/>
<rect x="1141" y="729" width="7" height="2" fill="#1e90ff"/>
<rect x="1147" y="728" width="7" height="2" fill="#1e90ff"/>
<rect x="1153" y="727" width="37" height="2" fill="#1e90ff"/>
<rect x="1189" y="726" width="18" height="2" fill="#1e90ff"/>
<rect x="1206" y="727" width="2" height="2" fill="#1e90ff"/>
<rect x="1207" y="728" width="2" height="2" fill="#1e90ff"/>
<rect x="1208" y="729" width="2" height="2" fill="#1e90ff"/>
<rect x="1209" y="730" width="2" height="2" fill="#1e90ff"/>
<rect x="1210" y="731" width="3" height="2" fill="#1e90ff"/>
<rect x="1212" y="732" width="2" height="2" fill="#1e90ff"/>
<rect x="1213" y="733" width="2" height="2" fill="#1e90ff"/>
<rect x="1214" y="734" width="2" height="2" fill="#1e90ff"/>
<rect x="1215" y="735" width="2" height="2" fill="#1e90ff"/>
<rect x="1216" y="736" width="3" height="2" fill="#1e90ff"/>
<rect x="1218" y="737" width="2" height="2" fill="#1e90ff"/>
<rect x="1219" y="738" width="2" height="2" fill="#1e90ff"/>
<rect x="1220" y="739" width="10" height="2" fill="#1e90ff"/>
<rect x="1229" y="738" width="16" height="2" fill="#1e90ff"/>
<rect x="1244" y="739" width="10" height="2" fill="#1e90ff"/>
<line x1="6" y1="725.5" x2="1616" y2="725.5" stroke="#000" stroke-width="1" stroke-dasharray="3,3"/>
<line x1="6" y1="755.5" x2="1616" y2="755.5" stroke="#000" stroke-width="1" stroke-dasharray="3,3"/>
<line x1="6" y1="790.5" x2="1616" y2="790.5" stroke="#000" stroke-width="1" stroke-dasharray="3,3"/>
<rect x="4" y="22" width="1613" height="1" fill="#000"/>
<rect x="4" y="22" width="1" height="785" fill="#000"/>
<rect x="1616" y="22" width="1" height="785" fill="#000"/>
<rect x="4" y="582" width="1613" height="1" fill="#000"/>
<rect x="4" y="583" width="1613" height="1" fill="#fff"/>
<rect x="4" y="584" width="1613" height="1" fill="#000"/>
<rect x="4" y="701" width="1613" height="1" fill="#000"/>
<rect x="4" y="702" width="1613" height="1" fill="#fff"/>
<rect x="4" y="703" width="1613" height="1" fill="#000"/>
<rect x="4" y="806" width="1613" height="1" fill="#000"/>
<rect x="5" y="29" width="1611" height="2" fill="#ff0000"/>
<rect x="4" y="27" width="6" height="6" fill="#ff0000"/>
<rect x="6" y="29" width="2" height="2" fill="#fff"/>
<rect x="1610" y="27" width="7" height="6" fill="#ff0000"/>
<rect x="1612" y="29" width="2" height="2" fill="#fff"/>
<rect x="5" y="71" width="1611" height="2" fill="#ff0000"/>
<rect x="4" y="69" width="6" height="6" fill="#ff0000"/>
<rect x="6" y="71" width="2" height="2" fill="#fff"/>
<rect x="1610" y="69" width="7" height="6" fill="#ff0000"/>
<rect x="1612" y="71" width="2" height="2" fill="#fff"/>
<rect x="5" y="123" width="1611" height="2" fill="#ffa500"/>
<rect x="4" y="121" width="6" height="6" fill="#ffa500"/>
<rect x="6" y="123" width="2" height="2" fill="#fff"/>
<rect x="1610" y="121" width="7" height="6" fill="#ffa500"/>
<rect x="1612" y="123" width="2" height="2" fill="#fff"/>
<rect x="5" y="170" width="1611" height="2" fill="#0000ff"/>
<rect x="5" y="210" width="1611" height="2" fill="#0000ff"/>
<rect x="4" y="208" width="6" height="6" fill="#0000ff"/>
<rect x="6" y="210" width="2" height="2" fill="#fff"/>
<rect x="1610" y="208" width="7" height="6" fill="#0000ff"/>
<rect x="1612" y="210" width="2" height="2" fill="#fff"/>
<rect x="1617" y="51" width="2" height="1" fill="#000"/>
<rect x="1617" y="84" width="2" height="1" fill="#000"/>
<rect x="1617" y="117" width="2" height="1" fill="#000"/>
<rect x="1617" y="150" width="2" height="1" fill="#000"/>
<rect x="1617" y="183" width="2" height="1" fill="#000"/>
<rect x="1617" y="216" width="2" height="1" fill="#000"/>
<rect x="1617" y="249" width="2" height="1" fill="#000"/>
<rect x="1617" y="282" width="2" height="1" fill="#000"/>
<rect x="1617" y="315" width="2" height="1" fill="#000"/>
<rect x="1617" y="348" width="2" height="1" fill="#000"/>
<rect x="1617" y="381" width="2" height="1" fill="#000"/>
<rect x="1617" y="414" width="2" height="1" fill="#000"/>
<rect x="1617" y="447" width="2" height="1" fill="#000"/>
<rect x="1617" y="480" width="2" height="1" fill="#000"/>
<rect x="1617" y="513" width="2" height="1" fill="#000"/>
<rect x="1617" y="546" width="2" height="1" fill="#000"/>
<rect x="1617" y="579" width="2" height="1" fill="#000"/>
<rect x="1617" y="648" width="2" height="1" fill="#000"/>
<rect x="1617" y="586" width="1" height="1" fill="#000"/>
<rect x="1617" y="700" width="1" height="1" fill="#000"/>
<rect x="1617" y="705" width="1" height="1" fill="#000"/>
<rect x="1617" y="805" width="1" height="1" fill="#000"/>
<rect x="5" y="807" width="1" height="3" fill="#000"/>
<rect x="69" y="807" width="1" height="3" fill="#000"/>
<rect x="133" y="807" width="1" height="3" fill="#000"/>
<rect x="197" y="807" width="1" height="3" fill="#000"/>
<rect x="261" y="807" width="1" height="3" fill="#000"/>
<rect x="325" y="807" width="1" height="3" fill="#000"/>
<rect x="389" y="807" width="1" height="3" fill="#000"/>
<rect x="453" y="807" width="1" height="3" fill="#000"/>
<rect x="517" y="807" width="1" height="3" fill="#000"/>
<rect x="581" y="807" width="1" height="3" fill="#000"/>
<rect x="645" y="807" width="1" height="3" fill="#000"/>
<rect x="709" y="807" width="1" height="3" fill="#000"/>
<rect x="773" y="807" width="1" height="3" fill="#000"/>
<rect x="837" y="807" width="1" height="3" fill="#000"/>
<rect x="901" y="807" width="1" height="3" fill="#000"/>
<rect x="965" y="807" width="1" height="3" fill="#000"/>
<rect x="1029" y="807" width="1" height="3" fill="#000"/>
<rect x="1093" y="807" width="1" height="3" fill="#000"/>
<rect x="1157" y="807" width="1" height="3" fill="#000"/>
<rect x="1221" y="807" width="1" height="3" fill="#000"/>
<polygon points="1288,23 1297,23 1292.5,28" fill="#000"/>
<rect x="1288" y="23" width="9" height="1" fill="#000"/>
<rect x="1289" y="24" width="7" height="1" fill="#000"/>
<rect x="1290" y="25" width="5" height="1" fill="#000"/>
<rect x="1291" y="26" width="3" height="1" fill="#000"/>
<rect x="1292" y="27" width="1" height="1" fill="#000"/>
<rect x="8" y="29" width="7" height="1" fill="#000"/>
<rect x="9" y="30" width="5" height="1" fill="#000"/>
<rect x="10" y="31" width="3" height="1" fill="#000"/>
<rect x="11" y="32" width="1" height="1" fill="#000"/>
</svg>
<svg width="1664" height="829" viewBox="0 0 1664 829">
<line x1="815.7" y1="357.7" x2="1276.5" y2="133.4" stroke="#e8131e" stroke-width="2.9"/><polygon points="1270.7,126.5 1290.3,126.5 1278.6,142.7" fill="#e8131e"/>
</svg>
<div class="t ax" style="left:1621.5px;top:47px;">0.98565</div>
<div class="t ax" style="left:1621.5px;top:80px;">0.98335</div>
<div class="t ax" style="left:1621.5px;top:113px;">0.98105</div>
<div class="t ax" style="left:1621.5px;top:146px;">0.97875</div>
<div class="t ax" style="left:1621.5px;top:179px;">0.97640</div>
<div class="t ax" style="left:1621.5px;top:212px;">0.97410</div>
<div class="t ax" style="left:1621.5px;top:245px;">0.97180</div>
<div class="t ax" style="left:1621.5px;top:278px;">0.96950</div>
<div class="t ax" style="left:1621.5px;top:311px;">0.96715</div>
<div class="t ax" style="left:1621.5px;top:344px;">0.96485</div>
<div class="t ax" style="left:1621.5px;top:377px;">0.96255</div>
<div class="t ax" style="left:1621.5px;top:410px;">0.96025</div>
<div class="t ax" style="left:1621.5px;top:443px;">0.95790</div>
<div class="t ax" style="left:1621.5px;top:476px;">0.95560</div>
<div class="t ax" style="left:1621.5px;top:509px;">0.95330</div>
<div class="t ax" style="left:1621.5px;top:542px;">0.95100</div>
<div class="t ax" style="left:1621.5px;top:575px;">0.94865</div>
<div class="t ax" style="left:1619.5px;top:587px;">0.004596</div>
<div class="t ax" style="left:1619.5px;top:644px;">0.00</div>
<div class="t ax" style="left:1620px;top:690px;">-0.003797</div>
<div class="t ax" style="left:1620px;top:706px;">100</div>
<div class="t ax" style="left:1619px;top:721px;">80</div>
<div class="t ax" style="left:1619px;top:751px;">50</div>
<div class="t ax" style="left:1619px;top:786px;">15</div>
<div class="t ax" style="left:1620px;top:795px;">0</div>
<div class="t ax" style="left:4px;top:811px;letter-spacing:-0.33px">23 Jun 2022</div>
<div class="t ax" style="left:68px;top:811px;letter-spacing:-0.33px">24 Jun 12:00</div>
<div class="t ax" style="left:132px;top:811px;letter-spacing:-0.33px">27 Jun 04:00</div>
<div class="t ax" style="left:196px;top:811px;letter-spacing:-0.33px">27 Jun 20:00</div>
<div class="t ax" style="left:260px;top:811px;letter-spacing:-0.33px">28 Jun 12:00</div>
<div class="t ax" style="left:324px;top:811px;letter-spacing:-0.33px">29 Jun 04:00</div>
<div class="t ax" style="left:388px;top:811px;letter-spacing:-0.33px">29 Jun 20:00</div>
<div class="t ax" style="left:452px;top:811px;letter-spacing:-0.33px">30 Jun 12:00</div>
<div class="t ax" style="left:516px;top:811px;letter-spacing:-0.2px">1 Jul 04:00</div>
<div class="t ax" style="left:580px;top:811px;letter-spacing:-0.2px">3 Jul 23:00</div>
<div class="t ax" style="left:644px;top:811px;letter-spacing:-0.2px">4 Jul 12:00</div>
<div class="t ax" style="left:708px;top:811px;letter-spacing:-0.2px">5 Jul 04:00</div>
<div class="t ax" style="left:772px;top:811px;letter-spacing:-0.2px">5 Jul 20:00</div>
<div class="t ax" style="left:836px;top:811px;letter-spacing:-0.2px">6 Jul 12:00</div>
<div class="t ax" style="left:900px;top:811px;letter-spacing:-0.2px">7 Jul 04:00</div>
<div class="t ax" style="left:964px;top:811px;letter-spacing:-0.2px">7 Jul 20:00</div>
<div class="t ax" style="left:1028px;top:811px;letter-spacing:-0.2px">8 Jul 12:00</div>
<div class="t ax" style="left:1092px;top:811px;letter-spacing:-0.2px">11 Jul 04:00</div>
<div class="t ax" style="left:1156px;top:811px;letter-spacing:-0.2px">11 Jul 20:00</div>
<div class="t ax" style="left:1220px;top:811px;letter-spacing:-0.2px">12 Jul 12:00</div>
<div class="pl" style="top:24px;background:#ff0000;color:#fff">0.98711</div>
<div class="pl" style="top:66px;background:#ff0000;color:#fff">0.98420</div>
<div class="pl" style="top:106px;background:#000;color:#fff">0.98147</div>
<div class="pl" style="top:118px;background:#ffa500;color:#fff">0.98054</div>
<div class="pl" style="top:165px;background:#0000ff;color:#fff">0.97726</div>
<div class="pl" style="top:205px;background:#0000ff;color:#fff">0.97445</div>
<div class="t ti" style="left:20px;top:26px;letter-spacing:0">USDCHF-,H4</div>
<div class="t ti" style="left:84.4px;top:26px;letter-spacing:-.32px">0.98201 0.98234 0.98133 0.98147</div>
<div style="position:absolute;left:16px;top:29px;width:214px;height:2px;background:#f00"></div>
<div class="t ti" style="left:9px;top:589px;">MACD(12,26,9) 0.003539 0.003974</div>
<div class="t ti" style="left:9px;top:708px;">RSI(14) 64.4276</div>
<div id="tip"><div style="top:1px">Horizontal Line 13074</div><div style="top:18px;letter-spacing:-0.3px">0.97726</div></div>
<div id="tb"><svg width="1664" height="17" viewBox="0 0 1664 17" style="position:absolute;left:0;top:0"><rect x="0" y="8" width="3" height="4" fill="#18b018"/><rect x="0" y="8" width="3" height="1" fill="#0a7a0a"/><defs><linearGradient id="gy" x1="0" y1="0" x2="1" y2="1"><stop offset="0" stop-color="#f0c020"/><stop offset=".45" stop-color="#ffe040"/><stop offset="1" stop-color="#d09810"/></linearGradient><linearGradient id="gb" x1="0" y1="0" x2="0" y2="1"><stop offset="0" stop-color="#9ecbf5"/><stop offset="1" stop-color="#2f7fe0"/></linearGradient><radialGradient id="gr" cx=".4" cy=".3" r=".8"><stop offset="0" stop-color="#f06040"/><stop offset="1" stop-color="#d01808"/></radialGradient></defs><path d="M54.3 8.3L61.6 13.9L69.8 8.4L69.6 6.6L61.5 12L54.5 6.8Z" fill="#c8a048" stroke="#9a6810" stroke-width=".7"/><path d="M60.2 -1.5L69.6 6.8L61.6 12.2L54.4 7Q58.5 3.5 60.2 -1.5Z" fill="url(#gy)" stroke="#a87010" stroke-width=".8"/><rect x="84.2" y="-2" width="11" height="10" fill="#36a0f4"/><rect x="84.2" y="-2" width="2.8" height="10" fill="#1e94ff"/><rect x="87" y="-2" width=".8" height="10" fill="#e8f4ff"/><rect x="89" y="2.4" width="4.8" height="1.4" fill="#f0f8ff"/><linearGradient id="gc" x1="0" y1="0" x2="0" y2="1"><stop offset="0" stop-color="#ffffff"/><stop offset="1" stop-color="#c4d0e6"/></linearGradient><path d="M85.2 13.6a3.1 3.1 0 0 1-.4-6.1a3.9 3.9 0 0 1 6.9-1.3a3 3 0 0 1 4.2 2.2a2.7 2.7 0 0 1-.5 5.2Z" fill="url(#gc)" stroke="#4a6aa4" stroke-width="1"/><circle cx="118.3" cy="5.5" r="7.4" fill="none" stroke="#9db8e0" stroke-width="1"/><circle cx="118.3" cy="5.5" r="4.8" fill="none" stroke="#6f96d8" stroke-width="1.1"/><path d="M118.3 5.5L122.5 -1A7.7 7.7 0 0 1 118.3 13.3Z" fill="#78bc78" opacity=".75"/><circle cx="118.3" cy="5.5" r="1.7" fill="#2a5bd0"/><path d="M118.6 6V13.5" stroke="#20a020" stroke-width="1.3"/><path d="M137.3 5.2L152.7 4.4L150.6 8.6L144.6 14L139.4 9.6Z" fill="#f8d848" stroke="#c8a020" stroke-width=".7"/><path d="M139 6.2L147 6L143.8 12Z" fill="#fdec90" opacity=".7"/><ellipse cx="145" cy="2.7" rx="7.8" ry="2.8" fill="#3898d8"/><path d="M140.3 2Q141 -3 145 -3.4Q149 -3 149.8 2Q145 4 140.3 2Z" fill="#7cc8ee"/><ellipse cx="145" cy="3.3" rx="6" ry="1.3" fill="#58b0e4"/><circle cx="149.6" cy="9.7" r="4" fill="url(#gr)" stroke="#b81808" stroke-width=".5"/><rect x="148" y="8.2" width="3" height="2.8" fill="#fff"/><rect x="213" y="0" width="1" height="17" fill="#a0a0a0" shape-rendering="crispEdges"/><rect x="214" y="0" width="1" height="17" fill="#ffffff" shape-rendering="crispEdges"/><rect x="217" y="0" width="3" height="1" fill="#a8a8a8" shape-rendering="crispEdges"/><rect x="217" y="2" width="3" height="1" fill="#a8a8a8" shape-rendering="crispEdges"/><rect x="217" y="4" width="3" height="1" fill="#a8a8a8" shape-rendering="crispEdges"/><rect x="217" y="6" width="3" height="1" fill="#a8a8a8" shape-rendering="crispEdges"/><rect x="217" y="8" width="3" height="1" fill="#a8a8a8" shape-rendering="crispEdges"/><rect x="217" y="10" width="3" height="1" fill="#a8a8a8" shape-rendering="crispEdges"/><rect x="217" y="12" width="3" height="1" fill="#a8a8a8" shape-rendering="crispEdges"/><rect x="217" y="14" width="3" height="1" fill="#a8a8a8" shape-rendering="crispEdges"/><path d="M231.5 0V13.7M228.5 11.5H242" stroke="#4c4c4c" stroke-width="1" fill="none" shape-rendering="crispEdges"/><path d="M240.6 10.2L242.6 11.5L240.6 12.8ZM230.3 1.4L231.5 -0.6L232.7 1.4Z" fill="#4c4c4c"/><path d="M237.5 1.2V9.7M237.5 2.4H240M235 8.6H237.5" stroke="#088808" stroke-width="1.3" fill="none"/><rect x="251" y="0" width="1" height="16" fill="#a0a0a0" shape-rendering="crispEdges"/><rect x="252" y="0" width="1" height="16" fill="#ffffff" shape-rendering="crispEdges"/><rect x="252" y="0" width="24" height="16" fill="#f8f8f8" shape-rendering="crispEdges"/><rect x="251" y="16" width="26" height="1" fill="#ffffff" shape-rendering="crispEdges"/><rect x="276" y="0" width="1" height="16" fill="#ffffff" shape-rendering="crispEdges"/><path d="M259.5 0V13.7M256.5 11.5H270" stroke="#4c4c4c" stroke-width="1" fill="none" shape-rendering="crispEdges"/><path d="M268.6 10.2L270.6 11.5L268.6 12.8ZM258.3 1.4L259.5 -0.6L260.7 1.4Z" fill="#4c4c4c"/><rect x="263.7" y="-1" width="3.7" height="8.2" fill="#50e850" stroke="#088808" stroke-width="1"/><path d="M265.5 7.5V9.6" stroke="#088808" stroke-width="1.2"/><path d="M287.5 0V13.7M284.5 11.5H298" stroke="#4c4c4c" stroke-width="1" fill="none" shape-rendering="crispEdges"/><path d="M296.6 10.2L298.6 11.5L296.6 12.8ZM286.3 1.4L287.5 -0.6L288.7 1.4Z" fill="#4c4c4c"/><path d="M286.3 8.7Q289.5 3.2 292.3 3.4Q294.5 4 297.6 7.2" stroke="#208820" stroke-width="1.2" fill="none"/><rect x="308" y="0" width="1" height="16" fill="#a0a0a0" shape-rendering="crispEdges"/><rect x="309" y="0" width="1" height="16" fill="#ffffff" shape-rendering="crispEdges"/><path d="M327 8L331.8 12.4" stroke="#a88410" stroke-width="3.4" stroke-linecap="round"/><path d="M327.3 8.3L331.6 12.2" stroke="#f0d040" stroke-width="1.8" stroke-linecap="round"/><circle cx="323" cy="3.8" r="5.6" fill="#d4eafa" stroke="#3a86cc" stroke-width="1.1"/><path d="M320 3.8H326M323 0.8V6.8" stroke="#2c6eb8" stroke-width="2"/><path d="M355 8L359.8 12.4" stroke="#a88410" stroke-width="3.4" stroke-linecap="round"/><path d="M355.3 8.3L359.6 12.2" stroke="#f0d040" stroke-width="1.8" stroke-linecap="round"/><circle cx="351" cy="3.8" r="5.6" fill="#d4eafa" stroke="#3a86cc" stroke-width="1.1"/><path d="M348 3.8H354" stroke="#2c6eb8" stroke-width="2"/><linearGradient id="gg" x1="0" y1="0" x2="1" y2="1"><stop offset="0" stop-color="#48b808"/><stop offset="1" stop-color="#2a8a00"/></linearGradient><linearGradient id="gbl" x1="0" y1="0" x2="1" y2="1"><stop offset="0" stop-color="#4878f0"/><stop offset=".6" stop-color="#0c3cc0"/><stop offset="1" stop-color="#2858d8"/></linearGradient><rect x="373" y="-2" width="7.9" height="7.9" rx="1" fill="url(#gg)"/><rect x="374" y="1" width="6" height="3.9" fill="#ffffff"/><rect x="375" y="2" width="4" height="1" fill="#58b020" opacity=".4"/><rect x="375" y="4.1" width="4" height=".8" fill="#58b020" opacity=".5"/><rect x="374.2" y="-0.8" width=".9" height=".9" fill="#fff" opacity=".85"/><rect x="381" y="-2" width="7.9" height="7.9" rx="1" fill="url(#gbl)"/><rect x="382" y="1" width="6" height="3.9" fill="#ffffff"/><rect x="383" y="2" width="4" height="1" fill="#3060d8" opacity=".4"/><rect x="383" y="4.1" width="4" height=".8" fill="#3060d8" opacity=".5"/><rect x="382.2" y="-0.8" width=".9" height=".9" fill="#fff" opacity=".85"/><rect x="373" y="6" width="7.9" height="7.9" rx="1" fill="url(#gbl)"/><rect x="374" y="9" width="6" height="3.9" fill="#ffffff"/><rect x="375" y="10" width="4" height="1" fill="#3060d8" opacity=".4"/><rect x="375" y="12.1" width="4" height=".8" fill="#3060d8" opacity=".5"/><rect x="374.2" y="7.2" width=".9" height=".9" fill="#fff" opacity=".85"/><rect x="381" y="6" width="7.9" height="7.9" rx="1" fill="url(#gg)"/><rect x="382" y="9" width="6" height="3.9" fill="#ffffff"/><rect x="383" y="10" width="4" height="1" fill="#58b020" opacity=".4"/><rect x="383" y="12.1" width="4" height=".8" fill="#58b020" opacity=".5"/><rect x="382.2" y="7.2" width=".9" height=".9" fill="#fff" opacity=".85"/><rect x="398" y="0" width="1" height="16" fill="#a0a0a0" shape-rendering="crispEdges"/><rect x="399" y="0" width="1" height="16" fill="#ffffff" shape-rendering="crispEdges"/><rect x="403" y="0" width="1" height="16" fill="#a0a0a0" shape-rendering="crispEdges"/><rect x="404" y="0" width="26" height="16" fill="#f8f8f8" shape-rendering="crispEdges"/><rect x="403" y="16" width="28" height="1" fill="#ffffff" shape-rendering="crispEdges"/><rect x="430" y="0" width="1" height="16" fill="#ffffff" shape-rendering="crispEdges"/><path d="M411.5 0V13.7M408.5 11.5H422" stroke="#4c4c4c" stroke-width="1" fill="none" shape-rendering="crispEdges"/><path d="M420.6 10.2L422.6 11.5L420.6 12.8ZM410.3 1.4L411.5 -0.6L412.7 1.4Z" fill="#4c4c4c"/><path d="M416 2.8L419.6 5.8L416 8.8Z" fill="#b8f0b8" stroke="#18a018" stroke-width="1.1"/><rect x="431" y="0" width="1" height="16" fill="#a0a0a0" shape-rendering="crispEdges"/><rect x="432" y="0" width="25" height="16" fill="#f8f8f8" shape-rendering="crispEdges"/><rect x="431" y="16" width="27" height="1" fill="#ffffff" shape-rendering="crispEdges"/><rect x="457" y="0" width="1" height="16" fill="#ffffff" shape-rendering="crispEdges"/><path d="M439.5 0V13.7M436.5 11.5H450" stroke="#4c4c4c" stroke-width="1" fill="none" shape-rendering="crispEdges"/><path d="M448.6 10.2L450.6 11.5L448.6 12.8ZM438.3 1.4L439.5 -0.6L440.7 1.4Z" fill="#4c4c4c"/><path d="M445.5 0V9.5" stroke="#2060b0" stroke-width="1.3"/><path d="M446.5 5.5H451.5M449 3.5L446.8 5.5L449 7.5" stroke="#e05010" stroke-width="1.1" fill="none"/><rect x="460" y="0" width="1" height="16" fill="#a0a0a0" shape-rendering="crispEdges"/><rect x="461" y="0" width="1" height="16" fill="#ffffff" shape-rendering="crispEdges"/><path d="M472.6 -1V9.2H470.6V1.5" fill="none" stroke="#808080" stroke-width=".9"/><path d="M472.8 -2H478.8L481.6 1V10.6H472.8Z" fill="#f6f6f6" stroke="#787878" stroke-width=".9"/><path d="M478.2 4.6h3.6v3.6h3.6v3.6h-3.6v3.6h-3.6v-3.6h-3.6v-3.6h3.6Z" fill="#20b820" stroke="#0a8a0a" stroke-width=".9"/><path d="M480 6v8M476 10h8" stroke="#70ec70" stroke-width="1.3"/><polygon points="492,5 498,5 495,8.5" fill="#000"/><radialGradient id="gk" cx=".5" cy=".5" r=".5"><stop offset=".6" stop-color="#3c8cf0"/><stop offset="1" stop-color="#0a46a8"/></radialGradient><circle cx="515.8" cy="5.6" r="7.8" fill="url(#gk)"/><circle cx="515.8" cy="5.6" r="5.1" fill="#f2f5f8"/><path d="M515.8 1.4V2.2M515.8 9V9.8M511.6 5.6H512.4M519.2 5.6H520" stroke="#a0a8b0" stroke-width=".9"/><path d="M515.6 2.6V6H518.4" stroke="#505860" stroke-width="1.1" fill="none"/><polygon points="531,5 537,5 534,8.5" fill="#000"/><rect x="547.6" y="-1" width="15" height="13.6" rx="1" fill="#fff" stroke="#2f6db8" stroke-width="1.2"/><rect x="547.6" y="-1" width="15" height="2.2" fill="#5090e0"/><rect x="548" y="6.5" width="14.4" height="1" fill="#3f7dc8"/><path d="M549.5 5L552 4L554.5 3.2L557 4.2L560.5 3" stroke="#a02810" stroke-width="1.2" fill="none"/><path d="M549.5 10.5L552 10L554.5 10.4L558 8.6L560.8 10.6" stroke="#189018" stroke-width="1.2" fill="none"/><polygon points="570,5 576,5 573,8.5" fill="#000"/><rect x="581" y="0" width="1" height="17" fill="#a0a0a0" shape-rendering="crispEdges"/><rect x="582" y="0" width="1" height="17" fill="#ffffff" shape-rendering="crispEdges"/><rect x="585" y="0" width="3" height="1" fill="#a8a8a8" shape-rendering="crispEdges"/><rect x="585" y="2" width="3" height="1" fill="#a8a8a8" shape-rendering="crispEdges"/><rect x="585" y="4" width="3" height="1" fill="#a8a8a8" shape-rendering="crispEdges"/><rect x="585" y="6" width="3" height="1" fill="#a8a8a8" shape-rendering="crispEdges"/><rect x="585" y="8" width="3" height="1" fill="#a8a8a8" shape-rendering="crispEdges"/><rect x="585" y="10" width="3" height="1" fill="#a8a8a8" shape-rendering="crispEdges"/><rect x="585" y="12" width="3" height="1" fill="#a8a8a8" shape-rendering="crispEdges"/><rect x="585" y="14" width="3" height="1" fill="#a8a8a8" shape-rendering="crispEdges"/><rect x="591" y="0" width="1" height="16" fill="#a0a0a0" shape-rendering="crispEdges"/><rect x="592" y="0" width="24" height="16" fill="#f8f8f8" shape-rendering="crispEdges"/><rect x="591" y="16" width="26" height="1" fill="#ffffff" shape-rendering="crispEdges"/><rect x="616" y="0" width="1" height="16" fill="#ffffff" shape-rendering="crispEdges"/><path d="M599.3 -2V9.6L602 7L604.6 12.8L606.3 12L603.8 6.4L607.4 6.2Z" fill="#505050"/><path d="M631.5 0V5M631.5 7.6V14M624 6.3H630M633 6.3H639" stroke="#505050" stroke-width="1.2"/><rect x="648" y="0" width="1" height="16" fill="#a0a0a0" shape-rendering="crispEdges"/><path d="M665.5 0V13" stroke="#505050" stroke-width="1.2"/><path d="M688 6.3H700" stroke="#505050" stroke-width="1.3"/><path d="M716 12.8L728.4 0.8" stroke="#505050" stroke-width="1.2"/><path d="M742 8L752 -1M745 12.5L756.5 2M744.5 6.5L746 11M747 4.5L748.5 9M749.5 2L751 7M752 0L753.5 5" stroke="#505050" stroke-width="1" fill="none"/><path d="M771 2.5H784.5" stroke="#505050" stroke-width="1" stroke-dasharray="1,1"/><path d="M771 6.5H784.5" stroke="#505050" stroke-width="1" stroke-dasharray="1,1"/><path d="M771 10.5H780" stroke="#505050" stroke-width="1" stroke-dasharray="1,1"/><rect x="828.5" y="0.5" width="11" height="12" fill="none" stroke="#505050" stroke-width="1" stroke-dasharray="1,1" shape-rendering="crispEdges"/><path d="M855 2L858.6 -1.2L862.2 2L858.6 4.6Z" fill="#505050"/><path d="M862 10L865.6 7.6L869.2 10L865.6 13Z" fill="#505050"/><path d="M857 7L859.5 9.2L864 4.2" stroke="#505050" stroke-width="1.3" fill="none"/><polygon points="876,5 882,5 879,8.5" fill="#000"/><rect x="887" y="0" width="1" height="17" fill="#a0a0a0" shape-rendering="crispEdges"/><rect x="888" y="0" width="1" height="17" fill="#ffffff" shape-rendering="crispEdges"/><rect x="891" y="0" width="3" height="1" fill="#a8a8a8" shape-rendering="crispEdges"/><rect x="891" y="2" width="3" height="1" fill="#a8a8a8" shape-rendering="crispEdges"/><rect x="891" y="4" width="3" height="1" fill="#a8a8a8" shape-rendering="crispEdges"/><rect x="891" y="6" width="3" height="1" fill="#a8a8a8" shape-rendering="crispEdges"/><rect x="891" y="8" width="3" height="1" fill="#a8a8a8" shape-rendering="crispEdges"/><rect x="891" y="10" width="3" height="1" fill="#a8a8a8" shape-rendering="crispEdges"/><rect x="891" y="12" width="3" height="1" fill="#a8a8a8" shape-rendering="crispEdges"/><rect x="891" y="14" width="3" height="1" fill="#a8a8a8" shape-rendering="crispEdges"/><rect x="1037" y="0" width="1" height="16" fill="#a0a0a0" shape-rendering="crispEdges"/><rect x="1038" y="0" width="24" height="16" fill="#f8f8f8" shape-rendering="crispEdges"/><rect x="1037" y="16" width="26" height="1" fill="#ffffff" shape-rendering="crispEdges"/><rect x="1062" y="0" width="1" height="16" fill="#ffffff" shape-rendering="crispEdges"/><rect x="1148" y="0" width="1" height="17" fill="#a0a0a0" shape-rendering="crispEdges"/><rect x="1149" y="0" width="1" height="17" fill="#ffffff" shape-rendering="crispEdges"/><path d="M1615.3 6.6L1611 11.2" stroke="#2058d8" stroke-width="2.8"/><circle cx="1618.7" cy="3.6" r="3.9" fill="#f0f0ff" stroke="#2a5cdc" stroke-width="1.4"/><path d="M1636 5.5Q1641 2.5 1646 5.5Q1648.5 8.5 1646 11.2Q1643 12.6 1640.5 12.2L1638.6 14.4L1638.4 12Q1634 10 1636 5.5Z" fill="#e2e2ee" stroke="#a8a8a8" stroke-width=".9"/><circle cx="1649.4" cy="3" r="8.2" fill="url(#gr)"/></svg><div class="x" style="left:6px;top:-1.6px;font-size:12.3px;line-height:12.3px;white-space:nowrap;color:#000;font-weight:700">新订单</div><div class="x" style="left:158.3px;top:-1.6px;font-size:12.3px;line-height:12.3px;white-space:nowrap;color:#000;font-weight:700;letter-spacing:-0.3px">自动交易</div><div class="x" style="left:902.5px;top:2px;font-size:9.8px;line-height:9.8px;white-space:nowrap;color:#383838;line-height:11px;text-rendering:geometricPrecision;letter-spacing:-.2px;-webkit-text-stroke:.15px #383838">M1</div><div class="x" style="left:930.5px;top:2px;font-size:9.8px;line-height:9.8px;white-space:nowrap;color:#383838;line-height:11px;text-rendering:geometricPrecision;letter-spacing:-.2px;-webkit-text-stroke:.15px #383838">M5</div><div class="x" style="left:956.5px;top:2px;font-size:9.8px;line-height:9.8px;white-space:nowrap;color:#383838;line-height:11px;text-rendering:geometricPrecision;letter-spacing:-.2px;-webkit-text-stroke:.15px #383838">M15</div><div class="x" style="left:984.5px;top:2px;font-size:9.8px;line-height:9.8px;white-space:nowrap;color:#383838;line-height:11px;text-rendering:geometricPrecision;letter-spacing:-.2px;-webkit-text-stroke:.15px #383838">M30</div><div class="x" style="left:1015.5px;top:2px;font-size:9.8px;line-height:9.8px;white-space:nowrap;color:#383838;line-height:11px;text-rendering:geometricPrecision;letter-spacing:-.2px;-webkit-text-stroke:.15px #383838">H1</div><div class="x" style="left:1042.5px;top:2px;font-size:9.8px;line-height:9.8px;white-space:nowrap;color:#383838;line-height:11px;text-rendering:geometricPrecision;letter-spacing:-.2px;-webkit-text-stroke:.15px #383838">H4</div><div class="x" style="left:1071.2px;top:2px;font-size:9.8px;line-height:9.8px;white-space:nowrap;color:#383838;line-height:11px;text-rendering:geometricPrecision;letter-spacing:-.2px;-webkit-text-stroke:.15px #383838">D1</div><div class="x" style="left:1099.3px;top:2px;font-size:9.8px;line-height:9.8px;white-space:nowrap;color:#383838;line-height:11px;text-rendering:geometricPrecision;letter-spacing:-.2px;-webkit-text-stroke:.15px #383838">W1</div><div class="x" style="left:1125.5px;top:2px;font-size:9.8px;line-height:9.8px;white-space:nowrap;color:#383838;line-height:11px;text-rendering:geometricPrecision;letter-spacing:-.2px;-webkit-text-stroke:.15px #383838">MN</div><div class="x" style="left:753px;top:9.2px;font-size:7px;line-height:7px;white-space:nowrap;color:#404040;font-weight:bold">E</div><div class="x" style="left:781px;top:9.2px;font-size:7px;line-height:7px;white-space:nowrap;color:#404040;font-weight:bold">F</div><div class="x" style="left:801.8px;top:0.6px;font-size:12px;line-height:12px;white-space:nowrap;color:#505050;-webkit-text-stroke:.35px #505050">A</div><div class="x" style="left:830.2px;top:1.9px;font-size:11.5px;line-height:11.5px;white-space:nowrap;color:#505050;font-weight:bold">T</div><div class="x" style="left:1645.4px;top:-2.6px;font-size:12.5px;line-height:12.5px;white-space:nowrap;color:#fff;font-weight:bold;font-family:"Liberation Serif",serif">1</div></div>
</body></html>
